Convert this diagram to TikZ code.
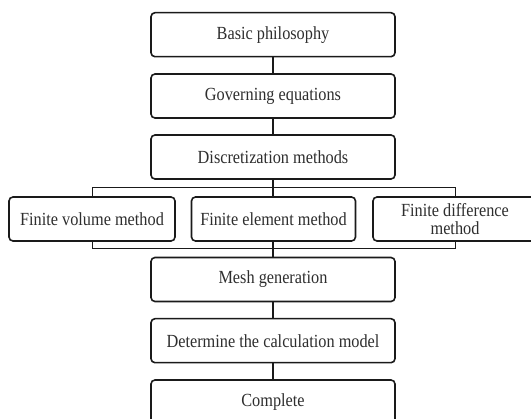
\documentclass[tikz,border=0pt]{standalone}
\usepackage{fontspec}
\setmainfont[FakeStretch=0.88]{Liberation Serif}
\definecolor{txt}{HTML}{2E2E2E}
\definecolor{ln}{HTML}{1A1A1A}
\begin{document}
\begin{tikzpicture}[x=1pt,y=-1pt,
  box/.style={draw=ln, line width=1.6pt, rounded corners=4pt, fill=white,
    text=txt, align=center, inner sep=0pt,
    font=\fontsize{18.5}{18}\selectfont},
  mainbox/.style={box, minimum width=244pt, minimum height=44pt},
  sidebox/.style={box, minimum width=164pt, minimum height=44pt},
  conn/.style={draw=ln, line width=1.3pt},
  bus/.style={draw=ln, line width=1pt}]
\useasboundingbox (0,0) rectangle (531,419);
\clip (0,0) rectangle (531,419);
\node[mainbox] (b1) at (273,34.7) {Basic philosophy};
\node[mainbox] (b2) at (273,96) {Governing equations};
\node[mainbox] (b3) at (273,157) {Discretization methods};
\node[sidebox, minimum width=166pt] (fv) at (92,219) {Finite volume method};
\node[sidebox] (fe) at (273.5,219) {Finite element method};
\node[sidebox] (fd) at (455,219) {Finite difference\\method};
\node[mainbox] (b4) at (273,279.5) {Mesh generation};
\node[mainbox] (b5) at (273,340.7) {Determine the calculation model};
\node[mainbox, minimum height=45pt] (b6) at (273,402.5) {Complete};
\coordinate (bt) at (273,187.5);
\coordinate (bb) at (273,248.5);
\draw[conn] (b1.south) -- (b2.north);
\draw[conn] (b2.south) -- (b3.north);
\draw[conn] (b3.south) -- (b3.south |- fe.north);
\draw[conn] (b4.north |- fe.south) -- (b4.north);
\draw[conn] (b4.south) -- (b5.north);
\draw[conn] (b5.south) -- (b6.north);
\draw[bus] (fv.north) |- (bt) -| (fd.north);
\draw[bus] (fv.south) |- (bb) -| (fd.south);
\end{tikzpicture}
\end{document}
